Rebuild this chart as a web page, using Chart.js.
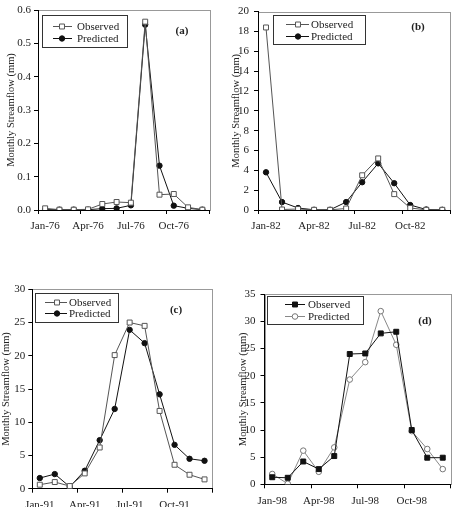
<!DOCTYPE html>
<html>
<head>
<meta charset="utf-8">
<title>Monthly Streamflow - Observed vs Predicted</title>
<script src="https://cdn.jsdelivr.net/npm/chart.js@4"></script>
<style>
  body { margin: 0; background: #fff; width: 456px; height: 507px; position: relative; overflow: hidden; }
  canvas { position: absolute; }
</style>
</head>
<body>
<canvas id="chartA" width="228" height="250" style="left:0;top:0"></canvas>
<canvas id="chartB" width="228" height="250" style="left:228px;top:0"></canvas>
<canvas id="chartC" width="228" height="257" style="left:0;top:250px"></canvas>
<canvas id="chartD" width="228" height="257" style="left:228px;top:250px"></canvas>

<script>
// ---- data ----
const monthsA = ['Jan-76','Feb-76','Mar-76','Apr-76','May-76','Jun-76','Jul-76','Aug-76','Sep-76','Oct-76','Nov-76','Dec-76'];
const observedA = [0.005, 0.001, 0.001, 0.002, 0.018, 0.024, 0.022, 0.565, 0.046, 0.048, 0.008, 0.001];
const predictedA = [0.001, 0.001, 0.001, 0.001, 0.004, 0.005, 0.014, 0.556, 0.133, 0.013, 0.005, 0.001];

const monthsB = ['Jan-82','Feb-82','Mar-82','Apr-82','May-82','Jun-82','Jul-82','Aug-82','Sep-82','Oct-82','Nov-82','Dec-82'];
const observedB = [18.4, 0.05, 0.1, 0.02, 0.02, 0.15, 3.5, 5.2, 1.6, 0.2, 0.02, 0.02];
const predictedB = [3.8, 0.8, 0.2, 0.02, 0.02, 0.8, 2.8, 4.7, 2.7, 0.5, 0.05, 0.02];

const monthsC = ['Jan-91','Feb-91','Mar-91','Apr-91','May-91','Jun-91','Jul-91','Aug-91','Sep-91','Oct-91','Nov-91','Dec-91'];
const observedC = [0.6, 1.0, 0.4, 2.3, 6.2, 20.1, 25.0, 24.5, 11.7, 3.6, 2.1, 1.4];
const predictedC = [1.6, 2.2, 0.3, 2.7, 7.3, 12.0, 23.9, 21.9, 14.2, 6.6, 4.5, 4.2];

const monthsD = ['Jan-98','Feb-98','Mar-98','Apr-98','May-98','Jun-98','Jul-98','Aug-98','Sep-98','Oct-98','Nov-98','Dec-98'];
const observedD = [1.3, 1.2, 4.2, 2.8, 5.2, 24.0, 24.1, 27.8, 28.1, 10.0, 4.9, 4.9];
const predictedD = [1.9, 0.1, 6.2, 2.3, 6.8, 19.3, 22.5, 31.9, 25.7, 9.8, 6.5, 2.8];

const seriesNames = ['Observed', 'Predicted'];
const yTitle = 'Monthly Streamflow (mm)';

const serif = "'Liberation Serif', 'Times New Roman', serif";
const textColor = '#222';

// draws the boxed legend, the panel tag and the grey plot frame
const panelDecor = {
  id: 'panelDecor',
  beforeDraw(chart, args, opts) {
    const a = chart.chartArea, ctx = chart.ctx;
    ctx.save();
    ctx.strokeStyle = '#999';
    ctx.lineWidth = 1;
    ctx.strokeRect(Math.round(a.left) + 0.5, Math.round(a.top) + 0.5, Math.round(a.right - a.left), Math.round(a.bottom - a.top));
    ctx.restore();
  },
  afterDraw(chart, args, opts) {
    const ctx = chart.ctx, lg = opts.legend;
    ctx.save();
    ctx.fillStyle = '#fff';
    ctx.fillRect(lg.x, lg.y, lg.w, lg.h);
    ctx.strokeStyle = '#333';
    ctx.lineWidth = 1;
    ctx.strokeRect(lg.x + 0.5, lg.y + 0.5, lg.w, lg.h);
    chart.data.datasets.forEach((ds, i) => {
      const y = lg.rows[i];
      ctx.strokeStyle = ds.borderColor;
      ctx.lineWidth = 1;
      ctx.beginPath();
      ctx.moveTo(lg.x0, y + 0.5);
      ctx.lineTo(lg.x1, y + 0.5);
      ctx.stroke();
      ctx.fillStyle = ds.pointBackgroundColor;
      ctx.strokeStyle = ds.pointBorderColor;
      Chart.helpers.drawPoint(ctx, { pointStyle: ds.pointStyle, radius: ds.pointRadius, rotation: 0, borderWidth: 1 }, lg.mark, y + 0.5);
      ctx.fillStyle = textColor;
      ctx.font = '11px ' + serif;
      ctx.textAlign = 'left';
      ctx.textBaseline = 'middle';
      ctx.fillText(ds.label, lg.tx, y + 1);
    });
    ctx.font = 'bold 11px ' + serif;
    ctx.textAlign = 'center';
    ctx.textBaseline = 'middle';
    ctx.fillStyle = textColor;
    ctx.fillText(opts.tag.text, opts.tag.x, opts.tag.y);
    ctx.restore();
  }
};

function buildPanel(id, months, obs, pred, p) {
  const canvas = document.getElementById(id);
  const W = canvas.width, H = canvas.height;
  const titleHalf = 10.5 * 1.2 / 2;
  const padLeft = Math.max(p.titleX - titleHalf, 0);
  const xHeight = Math.min(30, H - p.area.bottom);
  return new Chart(canvas, {
    type: 'line',
    data: {
      labels: months,
      datasets: [
        Object.assign({ label: seriesNames[0], data: obs, borderWidth: 1, pointBorderWidth: 1 }, p.obsStyle),
        Object.assign({ label: seriesNames[1], data: pred, borderWidth: 1, pointBorderWidth: 1 }, p.predStyle)
      ]
    },
    options: {
      responsive: false,
      animation: false,
      layout: {
        padding: { left: padLeft, top: p.area.top, right: W - p.area.right, bottom: H - p.area.bottom - xHeight }
      },
      plugins: {
        legend: { display: false },
        tooltip: { enabled: false },
        panelDecor: { legend: p.legend, tag: p.tag }
      },
      scales: {
        x: {
          type: 'category',
          offset: true,
          afterFit(scale) { scale.height = xHeight; },
          grid: {
            offset: true,
            drawOnChartArea: false,
            tickLength: 4,
            tickColor: ctx => (ctx.index === undefined || ctx.index % 3 === 0) ? '#000' : 'rgba(0,0,0,0)'
          },
          border: { color: '#000', width: 1 },
          ticks: {
            autoSkip: false,
            maxRotation: 0,
            padding: 6,
            color: textColor,
            font: { family: serif, size: 11 },
            callback(v, i) { return i % 3 === 0 ? this.getLabelForValue(v) : ''; }
          }
        },
        y: {
          min: 0,
          max: p.yMax,
          afterFit(scale) { scale.width = p.area.left - padLeft; },
          grid: { drawOnChartArea: false, tickLength: 4, tickColor: '#000' },
          border: { color: '#000', width: 1 },
          ticks: {
            stepSize: p.yStep,
            padding: p.tickPad,
            color: textColor,
            font: { family: serif, size: 11 },
            callback: v => v.toFixed(p.decimals)
          },
          title: {
            display: true,
            text: yTitle,
            color: textColor,
            padding: 0,
            font: { family: serif, size: 10.5 }
          }
        }
      }
    },
    plugins: [panelDecor]
  });
}

const openSquare = { borderColor: '#555', pointStyle: 'rect', pointRadius: 3.5, pointBackgroundColor: '#fff', pointBorderColor: '#555' };
const filledDot = { borderColor: '#111', pointStyle: 'circle', pointRadius: 2.7, pointBackgroundColor: '#111', pointBorderColor: '#111' };
const filledSquare = { borderColor: '#111', pointStyle: 'rect', pointRadius: 3.5, pointBackgroundColor: '#111', pointBorderColor: '#111' };
const openDot = { borderColor: '#888', pointStyle: 'circle', pointRadius: 2.8, pointBackgroundColor: '#fff', pointBorderColor: '#777' };

buildPanel('chartA', monthsA, observedA, predictedA, {
  area: { left: 38, top: 10, right: 209.5, bottom: 210 },
  titleX: 11, tickPad: 3, yMax: 0.6, yStep: 0.1, decimals: 1,
  obsStyle: openSquare, predStyle: filledDot,
  legend: { x: 42, y: 15, w: 85, h: 32, x0: 53, x1: 72, mark: 62, tx: 77, rows: [26, 38] },
  tag: { text: '(a)', x: 182, y: 31 }
});

buildPanel('chartB', monthsB, observedB, predictedB, {
  area: { left: 30, top: 8.3, right: 222.3, bottom: 210 },
  titleX: 8.3, tickPad: 5, yMax: 20, yStep: 2, decimals: 0,
  obsStyle: openSquare, predStyle: filledDot,
  legend: { x: 45, y: 15, w: 92, h: 29, x0: 58, x1: 81, mark: 70, tx: 83, rows: [24, 36] },
  tag: { text: '(b)', x: 190, y: 27 }
});

buildPanel('chartC', monthsC, observedC, predictedC, {
  area: { left: 32.3, top: 39.3, right: 212, bottom: 238.7 },
  titleX: 6, tickPad: 3, yMax: 30, yStep: 5, decimals: 0,
  obsStyle: openSquare, predStyle: filledDot,
  legend: { x: 35, y: 43, w: 83, h: 29, x0: 45, x1: 67, mark: 57, tx: 69, rows: [52, 63] },
  tag: { text: '(c)', x: 176, y: 60 }
});

buildPanel('chartD', monthsD, observedD, predictedD, {
  area: { left: 36.5, top: 44.3, right: 222.5, bottom: 234.3 },
  titleX: 15, tickPad: 5, yMax: 35, yStep: 5, decimals: 0,
  obsStyle: filledSquare, predStyle: openDot,
  legend: { x: 39, y: 46, w: 96, h: 28, x0: 57, x1: 77, mark: 67, tx: 80, rows: [54, 66] },
  tag: { text: '(d)', x: 197, y: 71 }
});
</script>
</body>
</html>
